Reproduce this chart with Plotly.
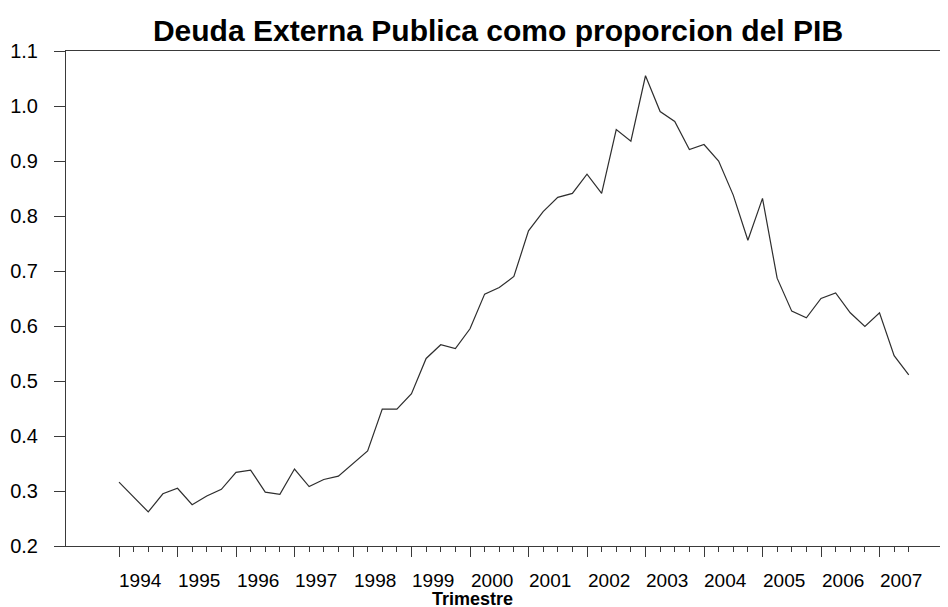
import plotly.graph_objects as go

# ---- data (quarterly, 1994Q1 .. 2007Q3) ----
years = [1994, 1995, 1996, 1997, 1998, 1999, 2000, 2001, 2002, 2003, 2004, 2005, 2006, 2007]
start_year = 1994
deuda_pib = [
    0.316, 0.289, 0.262, 0.295,   # 1994
    0.305, 0.275, 0.291, 0.303,   # 1995
    0.334, 0.338, 0.298, 0.294,   # 1996
    0.340, 0.308, 0.321, 0.327,   # 1997
    0.350, 0.373, 0.449, 0.449,   # 1998
    0.477, 0.541, 0.566, 0.559,   # 1999
    0.595, 0.658, 0.670, 0.690,   # 2000
    0.773, 0.808, 0.834, 0.841,   # 2001
    0.876, 0.841, 0.957, 0.936,   # 2002
    1.055, 0.990, 0.972, 0.921,   # 2003
    0.930, 0.900, 0.838, 0.756,   # 2004
    0.832, 0.687, 0.627, 0.615,   # 2005
    0.650, 0.660, 0.624, 0.599,   # 2006
    0.624, 0.546, 0.511,          # 2007
]
y_ticks = [0.2, 0.3, 0.4, 0.5, 0.6, 0.7, 0.8, 0.9, 1.0, 1.1]
y_ticktext = ["0.2", "0.3", "0.4", "0.5", "0.6", "0.7", "0.8", "0.9", "1.0", "1.1"]

title_text = "Deuda Externa Publica como proporcion del PIB"
xlabel_text = "Trimestre"

# time index (year + quarter fraction)
t = [start_year + i / 4 for i in range(len(deuda_pib))]
minor_vals = [v for v in t if abs(v - round(v)) > 1e-9]

# the page body has an 8px default margin; lay the figure out accordingly
OFF = 8
W, H = 948 - OFF, 607 - OFF
L, R, T = 66 - OFF, 0, 51 - OFF
B = H - (546 - OFF)
plot_w = W - L - R
px_per_year = 58.5
x0 = 1994 - (119 - 66) / px_per_year
x1 = x0 + plot_w / px_per_year

FONT = "Liberation Sans, Arial, Helvetica, sans-serif"
AX = "#3a3a3a"

fig = go.Figure()
fig.add_trace(go.Scatter(
    x=t, y=deuda_pib, mode="lines",
    line=dict(color="#2e2e2e", width=1.2),
    showlegend=False, hoverinfo="skip",
))

fig.update_layout(
    width=W, height=H,
    margin=dict(l=L, r=R, t=T, b=B),
    paper_bgcolor="white", plot_bgcolor="white",
    font=dict(family=FONT, color="black"),
    title=dict(
        text="<b>" + title_text + "</b>",
        x=(498 - OFF) / W, xanchor="center", xref="container",
        y=1 - (30 - OFF) / H, yanchor="middle", yref="container",
        font=dict(size=30, family=FONT, color="black"),
    ),
    xaxis=dict(
        range=[x0, x1], showgrid=False, zeroline=False,
        showline=True, linecolor=AX, linewidth=1, mirror=True,
        tickmode="array", tickvals=years, showticklabels=False,
        ticks="outside", ticklen=10, tickwidth=1, tickcolor=AX,
        minor=dict(tickmode="array", tickvals=minor_vals, ticks="outside",
                   ticklen=5, tickwidth=1, tickcolor=AX, showgrid=False),
    ),
    yaxis=dict(
        range=[0.2, 1.1], showgrid=False, zeroline=False,
        showline=True, linecolor=AX, linewidth=1,
        tickmode="array", tickvals=y_ticks, ticktext=y_ticktext,
        ticks="outside", ticklen=11, tickwidth=1, tickcolor=AX,
        ticklabelstandoff=12,
        tickfont=dict(size=20, family=FONT, color="black"),
    ),
)

# year labels, centred a little to the right of each year tick
for yr in years:
    fig.add_annotation(
        x=yr + 0.375, xref="x", y=0, yref="paper",
        text=str(yr), showarrow=False, xanchor="center", yanchor="top",
        yshift=-23, borderpad=0, font=dict(size=19, family=FONT, color="black"),
    )

fig.add_annotation(
    x=(472 - 66) / plot_w, xref="paper", y=0, yref="paper",
    text="<b>" + xlabel_text + "</b>",
    showarrow=False, xanchor="center", yanchor="top", yshift=-42,
    borderpad=0, font=dict(size=18, family=FONT, color="black"),
)

fig.write_html("out.html")
